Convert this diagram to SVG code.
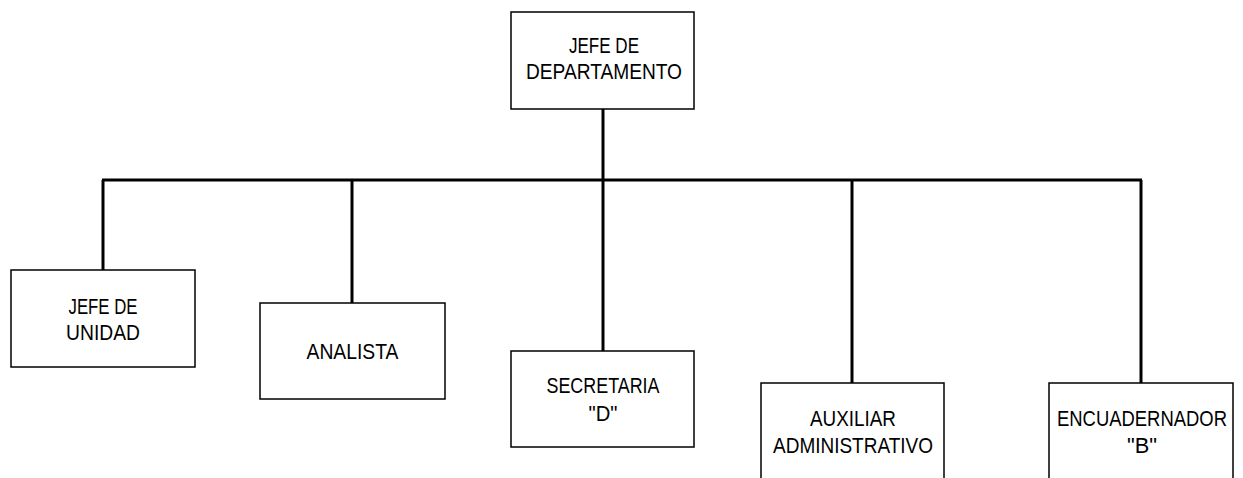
<svg xmlns="http://www.w3.org/2000/svg" width="1243" height="478" viewBox="0 0 1243 478">
<style>
.box{fill:#fff;stroke:#000;stroke-width:1.5}
.lbl{font-family:"Liberation Sans",Arial,sans-serif;font-size:22px;fill:#000;text-anchor:middle}
.con{stroke:#000;stroke-width:3;fill:none}
</style>
<rect width="1243" height="478" fill="#fff"/>
<g id="connectors">
<line class="con" x1="603" y1="109" x2="603" y2="180"/>
<line class="con" x1="102" y1="180" x2="1142" y2="180"/>
<line class="con" x1="103" y1="180" x2="103" y2="270"/>
<line class="con" x1="352" y1="180" x2="352" y2="303"/>
<line class="con" x1="603" y1="180" x2="603" y2="351"/>
<line class="con" x1="852" y1="180" x2="852" y2="383"/>
<line class="con" x1="1141" y1="180" x2="1141" y2="383"/>
</g>
<g id="jefe-departamento">
<rect class="box" x="511" y="12" width="183" height="97"/>
<text class="lbl" x="604" y="53" textLength="70" lengthAdjust="spacingAndGlyphs">JEFE DE</text>
<text class="lbl" x="604" y="79" textLength="156" lengthAdjust="spacingAndGlyphs">DEPARTAMENTO</text>
</g>
<g id="jefe-unidad">
<rect class="box" x="11" y="270" width="184" height="97"/>
<text class="lbl" x="103" y="314" textLength="69" lengthAdjust="spacingAndGlyphs">JEFE DE</text>
<text class="lbl" x="103" y="340" textLength="74" lengthAdjust="spacingAndGlyphs">UNIDAD</text>
</g>
<g id="analista">
<rect class="box" x="260" y="303" width="185" height="96"/>
<text class="lbl" x="352.5" y="359" textLength="92" lengthAdjust="spacingAndGlyphs">ANALISTA</text>
</g>
<g id="secretaria">
<rect class="box" x="511" y="351" width="183" height="96"/>
<text class="lbl" x="603" y="393" textLength="113" lengthAdjust="spacingAndGlyphs">SECRETARIA</text>
<text class="lbl" x="603" y="421" textLength="29" lengthAdjust="spacingAndGlyphs">"D"</text>
</g>
<g id="auxiliar">
<rect class="box" x="761" y="383" width="183" height="100"/>
<text class="lbl" x="853" y="426" textLength="86" lengthAdjust="spacingAndGlyphs">AUXILIAR</text>
<text class="lbl" x="853" y="453" textLength="160" lengthAdjust="spacingAndGlyphs">ADMINISTRATIVO</text>
</g>
<g id="encuadernador">
<rect class="box" x="1049" y="383" width="184" height="100"/>
<text class="lbl" x="1142" y="426" textLength="170" lengthAdjust="spacingAndGlyphs">ENCUADERNADOR</text>
<text class="lbl" x="1142" y="453" textLength="30" lengthAdjust="spacingAndGlyphs">"B"</text>
</g>
</svg>
